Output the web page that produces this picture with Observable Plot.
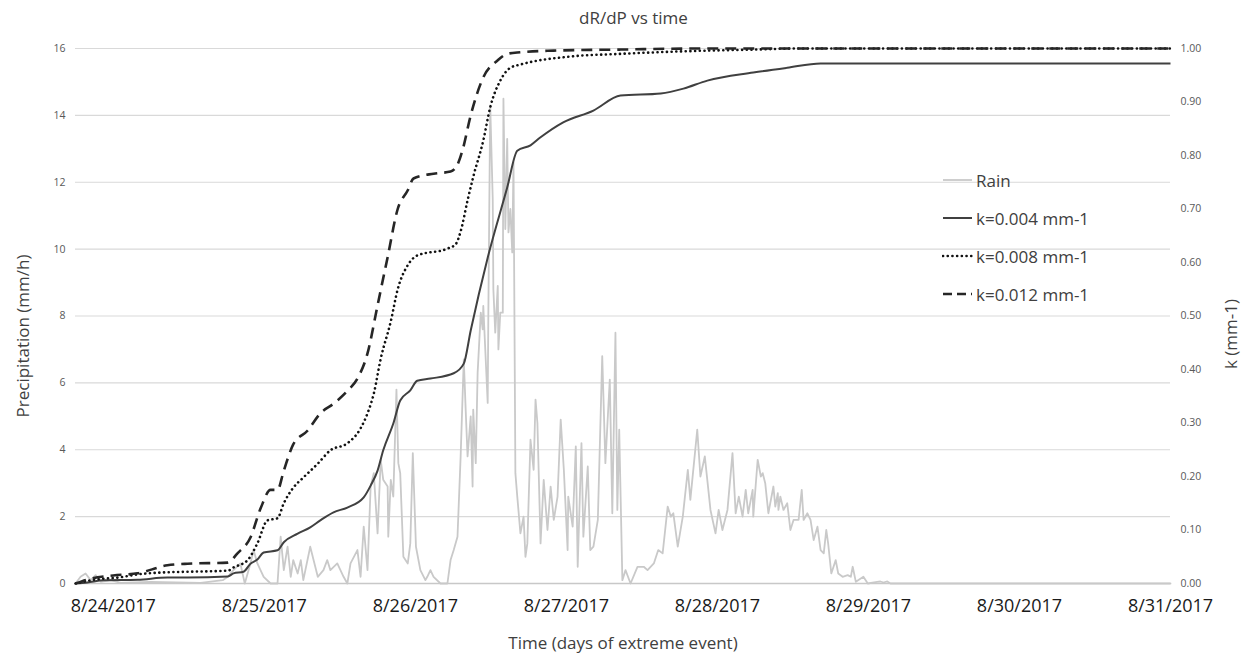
<!DOCTYPE html>
<html><head><meta charset="utf-8">
<script src="https://cdn.jsdelivr.net/npm/d3@7"></script>
<script src="https://cdn.jsdelivr.net/npm/@observablehq/plot@0.6"></script>
<style>
body{margin:0;background:#fff;font-family:"Open Sans",sans-serif;}
#wrap{position:relative;width:1247px;height:663px;overflow:hidden;}
#title{height:36px;line-height:36px;text-align:center;font-size:17px;color:#404040;padding-left:20px;box-sizing:border-box;}
#legend{position:absolute;left:942px;top:161px;}
.row{height:38px;display:flex;align-items:center;font-size:17px;color:#404040;}
.row svg{margin-right:3px;}
</style></head><body>
<div id="wrap"><div id="title">dR/dP vs time</div><div id="chart"></div><div id="legend"></div></div>
<script>
// x values are hours since 8/24/2017 00:00
const dayHours = [0, 24, 48, 72, 96, 120, 144, 168];
const dayLabels = ["8/24/2017","8/25/2017","8/26/2017","8/27/2017","8/28/2017","8/29/2017","8/30/2017","8/31/2017"];
const precipTicks = [0, 2, 4, 6, 8, 10, 12, 14, 16];
const kTicks = [0, 0.1, 0.2, 0.3, 0.4, 0.5, 0.6, 0.7, 0.8, 0.9, 1.0];

// Rain (mm/h): [hour, value]
const rain = [[-6,0],[-5.2,0.2],[-4.4,0.3],[-3.6,0.1],[-2.8,0.25],[-2.0,0.05],[-0.4,0.1],[1.2,0.02],[5.9,0.05],[13.9,0.02],
[17.4,0.1],[18.2,0.2],[19.1,0.4],[20.2,0.6],[20.9,0],[21.8,0.6],[22.3,1.0],[22.9,0.6],[23.9,0.2],[25.0,0],
[26.1,0],[26.6,1.4],[27.1,0.4],[27.7,1.1],[28.2,0.2],[28.6,0.7],[29.3,0.3],[29.8,0.7],[30.2,0.1],[31.3,1.1],
[32.5,0.2],[33.4,0.4],[34.0,0.7],[34.5,0.4],[35.6,0.6],[36.6,0.2],[37.2,0],[37.7,0.6],[38.8,1.0],[39.3,0.2],
[39.8,1.7],[40.4,0.4],[40.9,2.9],[41.4,3.3],[42.0,1.5],[42.5,3.7],[42.9,3.1],[43.6,2.9],[43.7,1.4],[44.1,3.1],
[44.5,2.6],[45.0,5.8],[45.3,3.6],[45.6,3.3],[46.1,0.8],[46.8,0.6],[47.2,1.2],[47.6,3.9],[48.1,1.1],[48.8,0.4],
[49.6,0.1],[49.9,0.2],[50.4,0.4],[50.9,0.2],[52.0,0],[53.1,0],[53.6,0.7],[54.1,1.0],[54.7,1.4],[55.2,3.8],
[55.7,6.7],[56.0,5.2],[56.3,3.8],[56.8,5.0],[57.1,2.9],[57.2,5.2],[57.6,3.6],[57.9,6.3],[58.4,8.1],[58.7,7.6],
[58.8,8.3],[59.5,5.4],[59.6,8.0],[59.9,14.3],[60.3,11.5],[60.4,8.8],[60.7,7.5],[61.1,8.9],[61.2,7.0],[61.5,8.1],
[61.9,8.1],[62.0,14.5],[62.3,10.6],[62.6,13.3],[62.8,10.5],[63.1,11.2],[63.4,9.9],[63.6,12.6],[63.9,3.3],[64.2,2.6],
[64.7,1.5],[65.2,2.0],[65.5,0.8],[65.8,1.2],[66.3,4.3],[66.8,3.4],[67.1,5.5],[67.4,4.8],[67.9,1.2],[68.4,3.1],
[69.0,1.6],[69.5,2.9],[70.0,1.9],[70.6,2.6],[71.1,4.9],[71.6,3.4],[72.2,1.0],[72.3,2.6],[73.0,1.7],[73.5,4.1],
[73.8,0.5],[74.4,4.2],[74.7,1.4],[75.4,3.5],[75.8,1.0],[76.3,1.1],[77.0,1.9],[77.7,6.8],[78.2,3.6],[78.9,6.1],
[79.3,2.1],[79.8,7.5],[80.1,2.2],[80.4,4.6],[80.9,0.1],[81.4,0.4],[82.2,0],[83.3,0.5],[84.3,0.5],[84.9,0.4],
[85.9,0.6],[86.6,1.0],[87.3,0.9],[88.1,2.3],[88.6,2.0],[89.0,2.1],[89.7,1.1],[90.5,2.0],[91.3,3.4],[91.7,2.5],
[92.8,4.6],[93.3,3.2],[94.0,3.8],[94.9,2.2],[95.7,1.5],[96.2,2.2],[96.8,1.6],[97.6,2.2],[98.4,3.9],[98.9,2.1],
[99.4,2.6],[100.0,2.0],[100.5,2.8],[100.9,2.1],[101.6,2.8],[101.7,2.0],[102.4,3.7],[102.9,3.2],[103.2,3.3],[103.6,3.0],
[104.1,2.1],[104.9,2.9],[105.2,2.3],[105.6,2.7],[105.7,2.2],[106.0,2.6],[106.5,2.2],[107.1,2.4],[107.6,1.6],[108.1,1.9],
[108.9,1.9],[109.4,2.8],[109.7,1.9],[110.3,2.1],[110.8,1.9],[111.3,1.3],[111.9,1.7],[112.4,1.0],[112.9,0.9],[113.3,1.6],
[113.6,1.2],[114.1,0.3],[114.8,0.7],[115.2,0.3],[115.9,0.2],[116.7,0.25],[117.2,0.2],[117.5,0.5],[118.0,0.05],[119.2,0.2],
[119.9,0],[121.4,0.05],[121.9,0.06],[122.4,0.03],[123.0,0.06],[123.5,0],[168,0]];

// k curves (mm-1, right axis): [hour, value]
const k004 = [[-6,0],[-4.1,0.002],[-1.55,0.006],[3.85,0.007],[8.6,0.011],[11.8,0.011],[18.2,0.013],[19.1,0.019],[20.7,0.022],
[21.8,0.037],[22.9,0.045],[23.9,0.058],[26.1,0.062],[27.1,0.077],[29.3,0.093],[31.3,0.105],[32.9,0.118],[35.0,0.133],
[37.2,0.142],[39.8,0.161],[40.9,0.183],[42.0,0.211],[42.9,0.249],[44.5,0.299],[45.6,0.342],[47.2,0.361],[48.3,0.379],
[50.4,0.383],[54.1,0.393],[55.7,0.411],[56.8,0.473],[59.5,0.609],[62.6,0.740],[64.2,0.809],[66.3,0.819],[67.9,0.834],
[71.5,0.862],[76.3,0.884],[80.6,0.912],[87.0,0.916],[90.6,0.925],[94.4,0.940],[101.7,0.955],[107.1,0.964],[112.4,0.972],[168,0.972]];
const k008 = [[-6,0],[-3.6,0.006],[-1.55,0.009],[0.7,0.011],[3.85,0.017],[8.6,0.021],[11.8,0.022],[18.2,0.024],[19.1,0.030],
[21.3,0.043],[22.9,0.075],[24.5,0.118],[26.1,0.122],[27.1,0.150],[28.6,0.179],[30.2,0.198],[32.5,0.224],[34.5,0.249],
[37.2,0.262],[39.3,0.290],[40.4,0.318],[41.4,0.355],[42.5,0.42],[44.1,0.49],[45.2,0.55],[46.8,0.595],[48.3,0.613],
[53.1,0.626],[54.4,0.634],[55.2,0.658],[56.3,0.716],[57.2,0.76],[58.8,0.828],[59.9,0.89],[61.5,0.94],[63.1,0.964],
[64.7,0.97],[72.7,0.985],[80.6,0.99],[91.3,0.995],[101.7,0.998],[109,1.0],[168,1.0]];
const k012 = [[-6,0],[-3.6,0.009],[0,0.015],[3.85,0.019],[8.6,0.034],[11.8,0.037],[18.2,0.039],[19.7,0.056],[21.8,0.086],
[23.4,0.14],[25.0,0.175],[26.1,0.175],[27.1,0.211],[28.6,0.26],[30.9,0.286],[32.9,0.318],[35.0,0.336],[37.2,0.36],
[38.8,0.383],[40.4,0.43],[42.0,0.52],[43.6,0.61],[45.2,0.70],[46.8,0.735],[47.7,0.757],[50.9,0.766],[53.6,0.77],
[54.7,0.783],[55.5,0.81],[56.8,0.875],[58.8,0.946],[61.1,0.978],[62.6,0.99],[64.7,0.993],[70,0.996],[80.6,0.998],[93,1.0],[168,1.0]];

const seriesNames = ["Rain","k=0.004 mm-1","k=0.008 mm-1","k=0.012 mm-1"];
const precipMax = 16; // right axis 1.00 aligned with left axis 16

const styles = {
  "Rain": {stroke:"#c9c9c9", strokeWidth:1.8, dash:null, cap:"butt"},
  "k=0.004 mm-1": {stroke:"#404040", strokeWidth:2, dash:null, cap:"butt"},
  "k=0.008 mm-1": {stroke:"#111", strokeWidth:2.6, dash:"0.1 4.6", cap:"round"},
  "k=0.012 mm-1": {stroke:"#262626", strokeWidth:2.6, dash:"11 7", cap:"butt"}
};

function kLine(data, name) {
  const s = styles[name];
  return Plot.line(data, {x: d => d[0], y: d => d[1] * precipMax, curve: "monotone-x",
    stroke: s.stroke, strokeWidth: s.strokeWidth, strokeDasharray: s.dash, strokeLinecap: s.cap});
}

const chart = Plot.plot({
  width: 1247, height: 627,
  marginTop: 12, marginBottom: 80, marginLeft: 75, marginRight: 77,
  style: {fontFamily: "'Open Sans', sans-serif", color: "#404040", background: "#fff"},
  x: {domain: [-6, 168]},
  y: {domain: [0, precipMax]},
  marks: [
    Plot.gridY(precipTicks, {stroke: "#d9d9d9", strokeOpacity: 1, strokeWidth: 1.2}),
    Plot.ruleY([0], {stroke: "#c8c8c8", strokeWidth: 1.5}),
    Plot.axisY(precipTicks, {anchor: "left", tickSize: 0, tickPadding: 10, fontSize: 10.5, fill: "#595959", label: null}),
    Plot.axisY(kTicks.map(k => k * precipMax), {anchor: "right", tickSize: 0, tickPadding: 10, fontSize: 10.5, fill: "#595959",
      tickFormat: d => (d / precipMax).toFixed(2), label: null}),
    Plot.axisX(dayHours, {tickSize: 0, tickPadding: 16, fontSize: 18, fill: "#1a1a1a",
      tickFormat: d => dayLabels[dayHours.indexOf(d)], label: null}),
    Plot.line(rain, {x: d => d[0], y: d => d[1], stroke: styles["Rain"].stroke, strokeWidth: styles["Rain"].strokeWidth}),
    kLine(k004, "k=0.004 mm-1"),
    kLine(k008, "k=0.008 mm-1"),
    kLine(k012, "k=0.012 mm-1"),
    Plot.text(["Precipitation (mm/h)"], {frameAnchor: "left", textAnchor: "middle", dx: -52, dy: 20, rotate: -90, fontSize: 17, fill: "#404040"}),
    Plot.text(["k (mm-1)"], {frameAnchor: "right", textAnchor: "middle", dx: 61, dy: 18, rotate: -90, fontSize: 17, fill: "#404040"}),
    Plot.text(["Time (days of extreme event)"], {frameAnchor: "bottom", textAnchor: "middle", dy: 65, fontSize: 17, fill: "#404040"})
  ]
});
document.getElementById("chart").appendChild(chart);

// Legend
const legend = d3.select("#legend");
seriesNames.forEach(name => {
  const s = styles[name];
  const row = legend.append("div").attr("class", "row");
  const svg = row.append("svg").attr("width", 31).attr("height", 10);
  svg.append("line").attr("x1", 1).attr("x2", 30).attr("y1", 5).attr("y2", 5)
    .attr("stroke", s.stroke).attr("stroke-width", s.strokeWidth)
    .attr("stroke-dasharray", name === "k=0.012 mm-1" ? "9 5" : s.dash)
    .attr("stroke-linecap", s.cap);
  row.append("span").text(name);
});
</script>
</body></html>
